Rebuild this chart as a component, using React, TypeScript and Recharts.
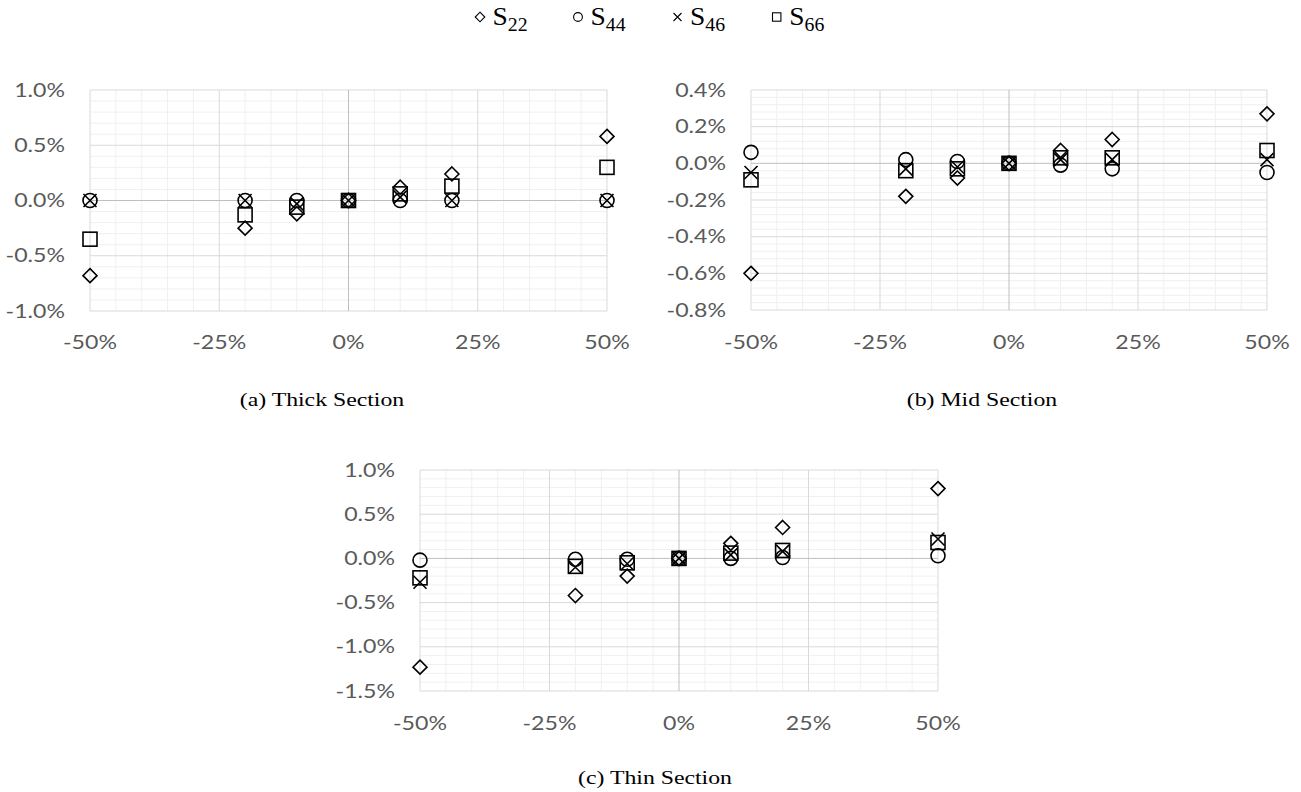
import React from 'react';
import { ScatterChart, Scatter, XAxis, YAxis, ReferenceLine } from 'recharts';

// ---------- data ----------
const xValues = [-50, -20, -10, 0, 10, 20, 50];
const xTicks = [-50, -25, 0, 25, 50];

const thickS22 = [-0.68, -0.25, -0.12, 0, 0.12, 0.24, 0.58];
const thickS44 = [0, 0, 0, 0, 0, 0, 0];
const thickS46 = [0, 0, -0.03, 0, 0.03, 0, 0];
const thickS66 = [-0.35, -0.13, -0.06, 0, 0.06, 0.13, 0.3];
const thickYTicks = [-1.0, -0.5, 0, 0.5, 1.0];

const midS22 = [-0.6, -0.18, -0.08, 0, 0.07, 0.13, 0.27];
const midS44 = [0.06, 0.02, 0.01, 0, -0.01, -0.03, -0.05];
const midS46 = [-0.05, -0.03, -0.02, 0, 0.02, 0.02, 0.02];
const midS66 = [-0.09, -0.04, -0.03, 0, 0.03, 0.03, 0.07];
const midYTicks = [-0.8, -0.6, -0.4, -0.2, 0, 0.2, 0.4];

const thinS22 = [-1.23, -0.42, -0.2, 0, 0.17, 0.35, 0.79];
const thinS44 = [-0.02, -0.01, -0.01, 0, 0.0, 0.01, 0.03];
const thinS46 = [-0.27, -0.1, -0.06, 0, 0.04, 0.08, 0.22];
const thinS66 = [-0.22, -0.09, -0.05, 0, 0.06, 0.09, 0.18];
const thinYTicks = [-1.5, -1.0, -0.5, 0, 0.5, 1.0];

const seriesNames = ['22', '44', '46', '66'];
const captions = ['(a) Thick Section', '(b) Mid Section', '(c) Thin Section'];

// ---------- helpers ----------
const toPoints = (xs: number[], ys: number[]) => xs.map((x, i) => ({ x, y: ys[i] }));

const gridSteps = (min: number, max: number, step: number) => {
  const out: number[] = [];
  const n = Math.round((max - min) / step);
  for (let i = 0; i <= n; i++) out.push(+(min + i * step).toFixed(4));
  return out;
};

const SX = 1.25;
const TICK_FONT = 'Lato, "Open Sans", sans-serif';
const TICK_COLOR = '#595959';
const MINOR = '#f0f0f0';
const MAJOR = '#d9d9d9';
const AXIS = '#bfbfbf';
const MARK = '#000';
const SW = 1.6;

const XTick = (props: any) => {
  const { x, y, payload } = props;
  return (
    <g transform={`translate(${x},${y}) scale(${SX},1)`}>
      <text x={0} y={0} dy="0.71em" textAnchor="middle" fill={TICK_COLOR} fontFamily={TICK_FONT} fontSize={18.5}>
        {`${payload.value}%`}
      </text>
    </g>
  );
};

const YTick = (props: any) => {
  const { x, y, payload } = props;
  return (
    <g transform={`translate(${x},${y}) scale(${SX},1)`}>
      <text x={0} y={0} dy="0.36em" textAnchor="end" fill={TICK_COLOR} fontFamily={TICK_FONT} fontSize={18.5}>
        {`${Number(payload.value).toFixed(1)}%`}
      </text>
    </g>
  );
};

const DiamondShape = (p: any) => {
  const { cx, cy } = p;
  const r = 7;
  return <polygon points={`${cx},${cy - r} ${cx + r},${cy} ${cx},${cy + r} ${cx - r},${cy}`} fill="none" stroke={MARK} strokeWidth={SW} />;
};
const CircleShape = (p: any) => <circle cx={p.cx} cy={p.cy} r={7} fill="none" stroke={MARK} strokeWidth={SW} />;
const XShape = (p: any) => {
  const { cx, cy } = p;
  const r = 6.5;
  return (
    <path d={`M${cx - r},${cy - r}L${cx + r},${cy + r}M${cx - r},${cy + r}L${cx + r},${cy - r}`} fill="none" stroke={MARK} strokeWidth={SW} />
  );
};
const SquareShape = (p: any) => <rect x={p.cx - 7} y={p.cy - 7} width={14} height={14} fill="none" stroke={MARK} strokeWidth={SW} />;

const shapes = [DiamondShape, CircleShape, XShape, SquareShape];

type PanelProps = {
  left: number;
  top: number;
  width: number;
  height: number;
  marginTop: number;
  marginRight: number;
  yAxisWidth: number;
  xAxisHeight: number;
  yDomain: [number, number];
  yTicks: number[];
  yMinorStep: number;
  series: number[][];
  xTickMargin: number;
};

const Panel = (props: PanelProps) => {
  const xMinor = gridSteps(-50, 50, 5).filter((v) => !xTicks.includes(v));
  const yAll = gridSteps(props.yDomain[0], props.yDomain[1], props.yMinorStep);
  const yMinor = yAll.filter((v) => !props.yTicks.some((t) => Math.abs(t - v) < 1e-6));
  const xMajor = xTicks.filter((v) => v !== 0);
  const yMajor = props.yTicks.filter((v) => v !== 0);
  return (
    <div style={{ position: 'absolute', left: props.left, top: props.top }}>
      <ScatterChart
        width={props.width}
        height={props.height}
        margin={{ top: props.marginTop, right: props.marginRight, bottom: 0, left: 0 }}
      >
        <XAxis
          type="number"
          dataKey="x"
          domain={[-50, 50]}
          ticks={xTicks}
          axisLine={false}
          tickLine={false}
          tickSize={0}
          tickMargin={props.xTickMargin}
          height={props.xAxisHeight}
          tick={<XTick />}
          interval={0}
        />
        <YAxis
          type="number"
          dataKey="y"
          domain={props.yDomain}
          ticks={props.yTicks}
          axisLine={false}
          tickLine={false}
          tickSize={0}
          tickMargin={25}
          width={props.yAxisWidth}
          tick={<YTick />}
          interval={0}
        />
        {xMinor.map((v) => (
          <ReferenceLine key={`xm${v}`} x={v} stroke={MINOR} strokeWidth={1} />
        ))}
        {yMinor.map((v) => (
          <ReferenceLine key={`ym${v}`} y={v} stroke={MINOR} strokeWidth={1} />
        ))}
        {xMajor.map((v) => (
          <ReferenceLine key={`xM${v}`} x={v} stroke={MAJOR} strokeWidth={1} />
        ))}
        {yMajor.map((v) => (
          <ReferenceLine key={`yM${v}`} y={v} stroke={MAJOR} strokeWidth={1} />
        ))}
        <ReferenceLine x={0} stroke={AXIS} strokeWidth={1} />
        <ReferenceLine y={0} stroke={AXIS} strokeWidth={1} />
        {props.series.map((ys, i) => {
          const S = shapes[i];
          return (
            <Scatter
              key={seriesNames[i]}
              name={`S${seriesNames[i]}`}
              data={toPoints(xValues, ys)}
              shape={(p: any) => <S {...p} />}
              isAnimationActive={false}
            />
          );
        })}
      </ScatterChart>
    </div>
  );
};

const Legend = () => {
  const items = [
    { c: 480, label: '22', k: 0 },
    { c: 578, label: '44', k: 1 },
    { c: 677.5, label: '46', k: 2 },
    { c: 776.7, label: '66', k: 3 },
  ];
  const cy = 17;
  const r = 4.8;
  return (
    <svg width={1301} height={40} style={{ position: 'absolute', left: 0, top: 0 }}>
      {items.map((it) => {
        const cx = it.c;
        let mark: any = null;
        if (it.k === 0)
          mark = <polygon points={`${cx},${cy - r} ${cx + r},${cy} ${cx},${cy + r} ${cx - r},${cy}`} fill="none" stroke="#000" strokeWidth={1.1} />;
        if (it.k === 1) mark = <circle cx={cx} cy={cy} r={4.4} fill="none" stroke="#000" strokeWidth={1.1} />;
        if (it.k === 2)
          mark = <path d={`M${cx - 4},${cy - 4}L${cx + 4},${cy + 4}M${cx - 4},${cy + 4}L${cx + 4},${cy - 4}`} stroke="#000" strokeWidth={1.1} />;
        if (it.k === 3) mark = <rect x={cx - 4.2} y={cy - 4.2} width={8.4} height={8.4} fill="none" stroke="#000" strokeWidth={1.1} />;
        return (
          <g key={it.label}>
            {mark}
            <g transform={`translate(${cx + 12.5},25) scale(1.1,1)`}>
              <text x={0} y={0} fontFamily='"Liberation Serif", serif' fontSize={25} fill="#000">
                S
                <tspan fontSize={18} dy={6}>
                  {it.label}
                </tspan>
              </text>
            </g>
          </g>
        );
      })}
    </svg>
  );
};

const captionStyle = (cx: number, cy: number): React.CSSProperties => ({
  position: 'absolute',
  left: cx - 150,
  top: cy - 12,
  width: 300,
  textAlign: 'center',
  fontFamily: '"Liberation Serif", "Times New Roman", serif',
  fontSize: 19,
  lineHeight: '24px',
  color: '#000',
  transform: `scaleX(${SX})`,
  transformOrigin: 'center',
});

export default function App() {
  return (
    <div style={{ position: 'absolute', left: 0, top: 0, width: 1301, height: 792, background: '#fff', overflow: 'hidden' }}>
      <Legend />
      <Panel
        left={0}
        top={0}
        width={650}
        height={380}
        marginTop={90}
        marginRight={43}
        yAxisWidth={90}
        xAxisHeight={69}
        yDomain={[-1.0, 1.0]}
        yTicks={thickYTicks}
        yMinorStep={0.1}
        series={[thickS22, thickS44, thickS46, thickS66]}
        xTickMargin={25}
      />
      <Panel
        left={660}
        top={0}
        width={641}
        height={380}
        marginTop={90}
        marginRight={34}
        yAxisWidth={91}
        xAxisHeight={70}
        yDomain={[-0.8, 0.4]}
        yTicks={midYTicks}
        yMinorStep={0.04}
        series={[midS22, midS44, midS46, midS66]}
        xTickMargin={26}
      />
      <Panel
        left={330}
        top={400}
        width={640}
        height={380}
        marginTop={70}
        marginRight={32}
        yAxisWidth={90}
        xAxisHeight={89}
        yDomain={[-1.5, 1.0]}
        yTicks={thinYTicks}
        yMinorStep={0.1}
        series={[thinS22, thinS44, thinS46, thinS66]}
        xTickMargin={26}
      />
      <div style={captionStyle(322, 400)}>{captions[0]}</div>
      <div style={captionStyle(982, 400)}>{captions[1]}</div>
      <div style={captionStyle(655, 778)}>{captions[2]}</div>
    </div>
  );
}
